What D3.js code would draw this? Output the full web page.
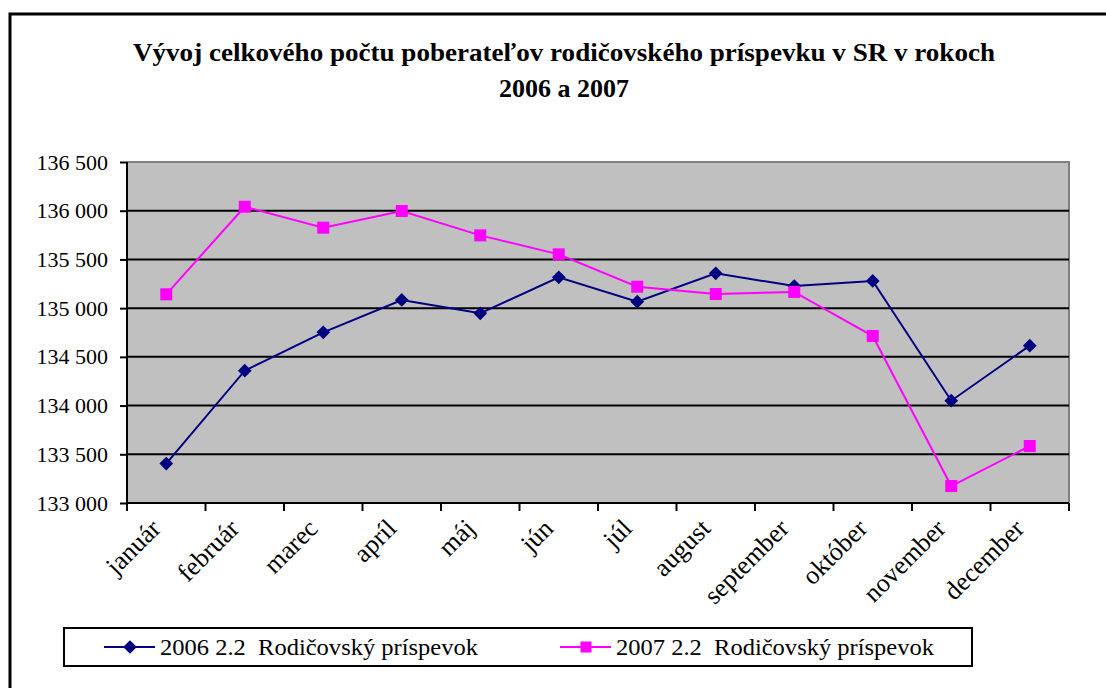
<!DOCTYPE html>
<html>
<head>
<meta charset="utf-8">
<script src="https://cdn.jsdelivr.net/npm/d3@7"></script>
<style>
  html, body { margin: 0; padding: 0; background: #fff; }
  svg { display: block; }
  text { font-family: "Liberation Serif", "Times New Roman", serif; }
</style>
</head>
<body>
<svg id="chart" width="1106" height="688"></svg>
<script>
const months = ["január","február","marec","apríl","máj","jún","júl","august","september","október","november","december"];
const series2006 = [133405, 134358, 134752, 135084, 134947, 135316, 135066, 135357, 135227, 135279, 134050, 134615];
const series2007 = [135142, 136041, 135826, 135997, 135747, 135552, 135220, 135145, 135166, 134714, 133174, 133585];
const yTicks = [133000, 133500, 134000, 134500, 135000, 135500, 136000, 136500];
const seriesNames = ["2006 2.2  Rodičovský príspevok", "2007 2.2  Rodičovský príspevok"];
const titleLines = ["Vývoj celkového počtu poberateľov rodičovského príspevku v SR v rokoch", "2006 a 2007"];

const svg = d3.select("#chart");
const L = 127, R = 1069, T = 162, B = 503;

// outer frame
svg.append("rect").attr("x", 10).attr("y", 14).attr("width", 1110).attr("height", 700)
  .attr("fill", "none").attr("stroke", "#000").attr("stroke-width", 3);

// title
svg.append("g").selectAll("text").data(titleLines).join("text")
  .attr("x", 564).attr("y", (d, i) => 61 + i * 36)
  .attr("text-anchor", "middle").attr("font-weight", "bold").attr("font-size", 26)
  .attr("textLength", (d, i) => i === 0 ? 862 : null)
  .attr("lengthAdjust", "spacingAndGlyphs")
  .text(d => d);

const x = d3.scaleBand().domain(months).range([L, R]);
const y = d3.scaleLinear().domain([133000, 136500]).range([B, T]);

// plot area
svg.append("rect").attr("x", L).attr("y", T).attr("width", R - L).attr("height", B - T)
  .attr("fill", "#c0c0c0");
svg.append("path").attr("d", `M${L},${T}H${R}V${B}`).attr("fill", "none")
  .attr("stroke", "#808080").attr("stroke-width", 2);

// gridlines
svg.append("g").selectAll("line").data(yTicks.slice(1, -1)).join("line")
  .attr("x1", L).attr("x2", R).attr("y1", d => y(d)).attr("y2", d => y(d))
  .attr("stroke", "#000").attr("stroke-width", 2);

// y axis
const fmt = v => d3.format(",")(v).replace(/,/g, " ");
const yAxis = svg.append("g").attr("transform", `translate(${L},0)`)
  .call(d3.axisLeft(y).tickValues(yTicks).tickFormat(fmt).tickSize(7).tickPadding(12));
yAxis.select(".domain").attr("stroke", "#000").attr("stroke-width", 2).attr("d", `M0,${T}V${B}`);
yAxis.selectAll(".tick line").attr("stroke", "#000").attr("stroke-width", 2);
yAxis.selectAll("text").attr("font-size", 22).attr("fill", "#000")
  .attr("font-family", "Liberation Serif, serif");

// x axis
const xg = svg.append("g");
xg.append("line").attr("x1", L).attr("x2", R).attr("y1", B).attr("y2", B)
  .attr("stroke", "#000").attr("stroke-width", 2);
const edges = months.map(m => x(m)).concat([R]);
xg.selectAll("line.tk").data(edges).join("line").attr("class", "tk")
  .attr("x1", d => d).attr("x2", d => d).attr("y1", B).attr("y2", B + 8)
  .attr("stroke", "#000").attr("stroke-width", 2);
xg.selectAll("text").data(months).join("text")
  .attr("transform", d => `translate(${x(d) + x.bandwidth() / 2 - 4},${B + 27}) rotate(-45)`)
  .attr("text-anchor", "end").attr("font-size", 26).text(d => d);

const cx = m => x(m) + x.bandwidth() / 2;
const line = d3.line().x((d, i) => cx(months[i])).y(d => y(d));

const blue = "#000080", pink = "#ff00ff";
svg.append("path").datum(series2006).attr("d", line).attr("fill", "none")
  .attr("stroke", blue).attr("stroke-width", 2);
svg.append("path").datum(series2007).attr("d", line).attr("fill", "none")
  .attr("stroke", pink).attr("stroke-width", 2);

const diamond = d3.symbol().type(d3.symbolDiamond2).size(120);
svg.append("g").selectAll("path").data(series2006).join("path")
  .attr("d", diamond)
  .attr("transform", (d, i) => `translate(${cx(months[i])},${y(d)})`)
  .attr("fill", blue);
svg.append("g").selectAll("rect").data(series2007).join("rect")
  .attr("x", (d, i) => cx(months[i]) - 6).attr("y", d => y(d) - 6)
  .attr("width", 12).attr("height", 12).attr("fill", pink);

// legend
const lg = svg.append("g");
lg.append("rect").attr("x", 64).attr("y", 628).attr("width", 908).attr("height", 38)
  .attr("fill", "#fff").attr("stroke", "#000").attr("stroke-width", 2);
const items = [
  { x0: 104, color: blue, shape: "d", name: seriesNames[0] },
  { x0: 560, color: pink, shape: "s", name: seriesNames[1] }
];
items.forEach(it => {
  lg.append("line").attr("x1", it.x0).attr("x2", it.x0 + 51).attr("y1", 647).attr("y2", 647)
    .attr("stroke", it.color).attr("stroke-width", 2);
  if (it.shape === "d") {
    lg.append("path").attr("d", diamond).attr("transform", `translate(${it.x0 + 26},647)`).attr("fill", it.color);
  } else {
    lg.append("rect").attr("x", it.x0 + 20.5).attr("y", 641.5).attr("width", 11).attr("height", 11).attr("fill", it.color);
  }
  lg.append("text").attr("x", it.x0 + 56).attr("y", 655).attr("font-size", 23)
    .attr("textLength", 318).attr("lengthAdjust", "spacingAndGlyphs")
    .attr("xml:space", "preserve").style("white-space", "pre").text(it.name);
});
</script>
</body>
</html>
